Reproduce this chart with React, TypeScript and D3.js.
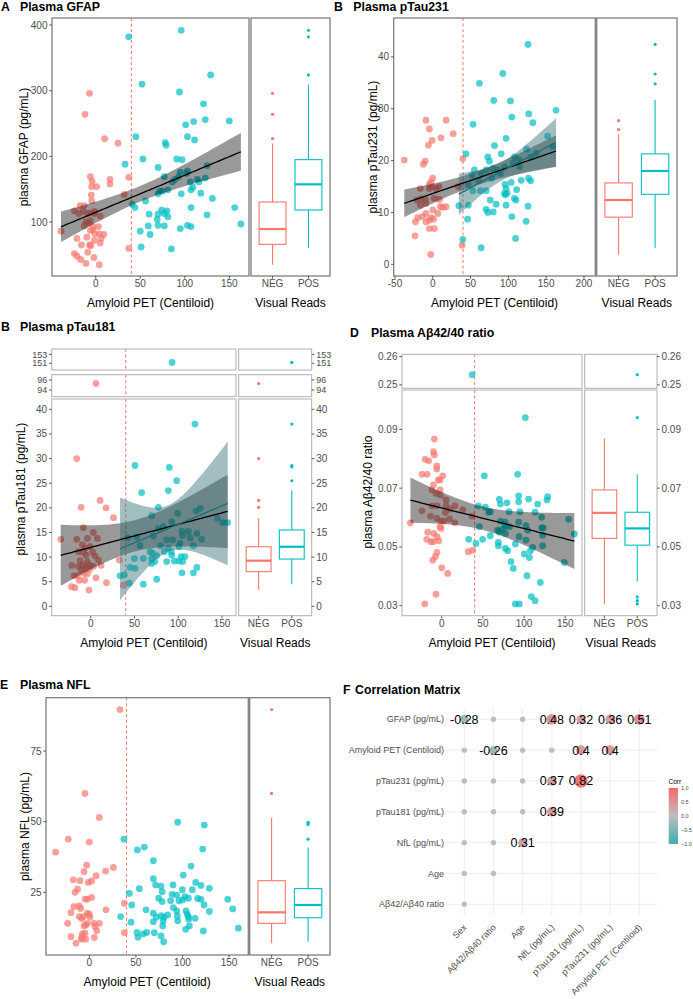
import React from 'react'
import * as d3 from 'd3'

const RED = '#F8766D'
const TEAL = '#00BFC4'
const FONT = '"Liberation Sans", Arial, Helvetica, sans-serif'

type Pt = [number, number]
type Box = { grp: string; lo: number; q1: number; med: number; q3: number; hi: number; out: number[] }

// ---- Panel A: GFAP
const gfapNeg: Pt[] = [[-39,86],[-7,296],[-12,264],[10,227],[25,220],[16,165],[16,158],[-6,169],[-4,162],[1,154],[-4.5,154],[-5,141],[-4.5,132],[-17.6,125],[-13,125],[-24,117],[-14,116],[-19,113],[-9,113],[-5,114],[-1.5,113],[5,109],[-1,116],[-11,100],[-8,98],[-13,94],[-6,87],[-3,88],[4,82],[9,81],[-1,82],[6,75],[-1.5,72],[-7,65],[-5.6,64],[-21,75],[-16,65],[5,68],[-10,77],[-24,52],[-21,48],[-17,43],[-11,37],[-2,46],[4,35],[-9,54],[-6,102],[-3,93],[37,168],[32,142],[37,60],[3,93]]
const gfapPos: Pt[] = [[37,382],[96,392],[129,324],[52,310],[94,298],[121,280],[123,256],[110,253],[101,248],[150,254],[45,230],[103,230],[111,225],[78,221],[79,217],[53,196],[33,188],[70,183],[91,196],[97,195],[103,178],[102,174],[95,176],[125,186],[77,169],[89,165],[93,169],[86,161],[106,161],[114,165],[123,167],[116,161],[72,147],[70,143],[81,149],[75,147],[96,143],[107,149],[109,153],[118,144],[131,136],[56,132],[44,122],[41,127],[107,122],[156,122],[60,112],[74,118],[80,117],[77,113],[81,108],[69,104],[125,111],[50,86],[59,94],[70,95],[77,94],[103,95],[107,93],[95,90],[163,97],[61,81],[51,62],[85,59],[70,112]]
const gfapBox: Box[] = [
  { grp: 'NEG', lo: 35, q1: 66, med: 89.3, q3: 130.5, hi: 219.5, out: [227, 264, 296] },
  { grp: 'POS', lo: 60.3, q1: 118.3, med: 157.4, q3: 195, hi: 309.5, out: [324, 382, 392] },
]

// ---- Panel B: pTau231
const p231Neg: Pt[] = [[-37.7,20.1],[-9,27.8],[17.6,27.8],[-4.5,26.1],[27,25.2],[10.9,24.4],[-1,23.9],[-5.8,23],[-10,19.9],[-12.4,19.3],[0,16.6],[-2.3,15.9],[-4.5,15.4],[-1,15],[-4.5,14.6],[4.4,14.6],[8,15],[-16.4,14.6],[-15.6,12.6],[-21,12.4],[-10,12.5],[2,12.7],[8.8,12.5],[-16.5,11.4],[-9,11.7],[10,11.1],[17.6,11.1],[13.3,11],[0,10.5],[-9,9.8],[-13.5,9.2],[6.6,9.8],[-20,9],[-2.3,9],[1,8.7],[-23,8.2],[-9,8.2],[-4.5,8.5],[-4.5,6.9],[2,6.9],[-23.5,5.5],[-2.7,1.9],[39.7,20.4],[38.8,3.7],[33.5,15]]
const p231Pos: Pt[] = [[126,42.4],[92.7,36.8],[61.7,34.9],[163,29.7],[80.7,31.6],[102.8,31.5],[104.6,28.4],[127,29],[132.4,27.3],[53.3,27],[152,24.7],[97,24.3],[159,22.7],[124,22.2],[81.6,22.9],[44,21.3],[90.5,21.3],[72.7,20.7],[75,19.9],[108,20.7],[114,20.2],[130,20.7],[137,21.4],[55,18.2],[70.6,18.2],[79.4,18.5],[86,18.2],[95,18.8],[106,19.5],[115,18.8],[52,17.2],[61,16.1],[64,17.5],[78,16.6],[89.6,17.5],[117,16.2],[126.7,16.6],[47,15.4],[95.7,15.4],[103.6,15.8],[129.4,16.1],[97,14.6],[53,14.2],[63,14.2],[70.6,14.2],[94.8,13.7],[98.4,13.7],[96,13.4],[111,14.4],[76,12.4],[108,12.7],[110,12.4],[47,11.4],[83.8,11.6],[97,11.4],[126,11.2],[70.6,10.6],[72.7,10],[80,10.1],[104.6,9.2],[123.5,8.3],[46,8.7],[39.7,4.8],[109.5,5],[64,3.2],[34.5,11.3]]
const p231Box: Box[] = [
  { grp: 'NEG', lo: 1.9, q1: 9.1, med: 12.4, q3: 15.7, hi: 25.1, out: [26, 27.7] },
  { grp: 'POS', lo: 3.2, q1: 13.5, med: 18, q3: 21.3, hi: 31.7, out: [34.8, 36.7, 42.4] },
]

// ---- Panel C: pTau181
const p181Neg: Pt[] = [[-34.3,13.6],[-16,30],[10.7,21.5],[-11,20.1],[17.5,20],[26,18],[-8.4,16],[3,15],[-16,13.6],[-3.8,13.8],[7.6,13.8],[-9.5,12.5],[-0.8,12.1],[-6.5,11.8],[-14,11.1],[-8.4,11],[2.3,11],[-5.3,10.4],[5,10.2],[8.8,9.4],[-12,9.3],[-3.8,9.1],[11.8,8.3],[-21.7,8.3],[-9,8.3],[-0.8,8.3],[3,8.1],[-14,8.1],[-5.3,7.9],[-1.5,7.5],[-11,7.4],[-15,6.2],[-19,6.2],[-7.6,6.7],[-3.8,6.6],[6,5.8],[-13,5.3],[-7,5.3],[18,4.8],[-22,4],[-18,3.8],[-2,3.3],[32.7,9.4],[37.3,4.3],[6,95.3]]
const p181Pos: Pt[] = [[119,37],[50.6,28.6],[89.8,28.2],[98.2,25.5],[88.7,23.5],[58.2,23.1],[77.3,20.1],[99.4,18.9],[92.5,17.2],[69.7,18.4],[125,19.9],[120.3,19.4],[144.7,17.9],[150.7,17],[156.5,17],[77.3,15.8],[83,16.2],[104,15.2],[111.6,15.2],[105,14.4],[113.7,13.9],[121.3,14.8],[126.8,13.6],[52.5,14.1],[42.3,13.9],[71.6,14.3],[86.8,13.5],[93.6,13.5],[102,12.8],[100.9,12.1],[79.9,12.3],[56.3,12.3],[88.7,11.8],[117.3,12.3],[67.8,11.1],[70.8,10.8],[84.2,11.1],[92.1,11.1],[75.4,10.3],[92.5,10.4],[49.9,9.7],[60.1,9.7],[69.7,9.7],[103.2,10.1],[107.7,10.1],[95.5,9.2],[73.4,9.1],[86.8,9.1],[105,9.1],[69.7,8.7],[100.9,9.2],[44.9,7.9],[50.6,7.7],[121.3,7.9],[104.3,6.8],[117.3,6.8],[33.5,6.2],[38.4,6.4],[75.4,5.5],[44.2,4.7],[60.1,4.5],[93,151.2]]
const p181Box: Box[] = [
  { grp: 'NEG', lo: 3.3, q1: 7.04, med: 9.27, q3: 12.1, hi: 17.9, out: [20.1, 21.5, 30, 95.3] },
  { grp: 'POS', lo: 4.5, q1: 9.6, med: 12.1, q3: 15.5, hi: 23.5, out: [25.5, 28.3, 28.6, 37, 151.2] },
]

// ---- Panel D: Abeta42/40
const ratioNeg: Pt[] = [[-38,0.0582],[-8.9,0.0867],[-10,0.0824],[-8.9,0.0813],[-20.2,0.0798],[-15.8,0.0793],[-6,0.0776],[-6,0.0765],[-23.9,0.0747],[-17.8,0.0747],[1.2,0.0742],[-4,0.0728],[-2,0.0728],[-10,0.0711],[-11.7,0.0694],[-2,0.0694],[-6.9,0.0682],[-1.6,0.0677],[-11.7,0.064],[-5.7,0.064],[5.3,0.066],[5.3,0.064],[10,0.0629],[-23.9,0.0623],[4.4,0.0618],[16,0.064],[25.5,0.0626],[-13.7,0.0605],[-6,0.0597],[-0.8,0.0588],[2.4,0.0588],[9.3,0.0595],[16,0.0582],[-2,0.0569],[-0.8,0.0563],[-17,0.055],[-9.7,0.0546],[-5.7,0.0535],[-18.2,0.0526],[-13,0.0518],[-10,0.0518],[-3.6,0.0521],[-5.7,0.0481],[-7.7,0.0467],[-10.9,0.0455],[0,0.0429],[7.3,0.041],[-6.9,0.0339],[-20.6,0.0306],[36.8,0.0605],[32.3,0.0484],[37.6,0.0489]]
const ratioPos: Pt[] = [[101.5,0.094],[51.8,0.0742],[92.2,0.0747],[93.4,0.0674],[105.5,0.0663],[128.6,0.0671],[127.8,0.066],[70,0.0662],[71.2,0.0646],[79.3,0.065],[93.4,0.0654],[116.5,0.0646],[44.5,0.064],[53,0.0635],[57,0.0618],[59,0.062],[81.7,0.062],[95,0.062],[113.3,0.0618],[71.2,0.0588],[76.9,0.0584],[93.4,0.0584],[121.3,0.0601],[45.7,0.0569],[67.9,0.0557],[74,0.056],[77.3,0.0572],[82.2,0.0569],[69.9,0.0551],[77.3,0.0546],[102.3,0.0572],[104.3,0.0557],[121.3,0.0565],[123.3,0.0565],[122.5,0.054],[154,0.0594],[161,0.0544],[59,0.0538],[94,0.0535],[49.7,0.0526],[32.8,0.0526],[68.7,0.0515],[68.7,0.0504],[89.4,0.051],[102.3,0.0523],[41.6,0.0512],[77.3,0.0495],[80,0.0487],[107.6,0.0487],[110.4,0.0498],[122.5,0.0504],[100.3,0.0476],[106.4,0.0464],[84.1,0.045],[86.9,0.0427],[148.8,0.0447],[103.5,0.0402],[119.7,0.0379],[108.8,0.0331],[113.3,0.0317],[89.4,0.0306],[94.2,0.0306],[37,0.2536]]
const ratioBox: Box[] = [
  { grp: 'NEG', lo: 0.0306, q1: 0.0529, med: 0.0616, q3: 0.0694, hi: 0.0869, out: [] },
  { grp: 'POS', lo: 0.0382, q1: 0.0506, med: 0.0563, q3: 0.0618, hi: 0.0747, out: [0.0306, 0.0317, 0.033, 0.094, 0.2536] },
]

// ---- Panel E: NFL
const nflNeg: Pt[] = [[-36.2,39.2],[32.9,89.7],[-4.7,60],[10.7,51.5],[-22.6,43.8],[0,42.8],[-2.9,34.6],[25.8,33.8],[-5.7,32.3],[17.5,32.5],[7.2,30.9],[-17.2,29.4],[-10,29.1],[-1.1,28.5],[2.5,29],[-12.5,26.1],[-15.4,25],[-4.3,22.6],[-2.1,22.6],[2.5,23.2],[-16.5,19.9],[-11,20.2],[-9.3,19.3],[17.9,18.8],[-19.7,17.8],[-2.1,17.6],[0,17.3],[-10.7,16.4],[-6.4,16.4],[0.7,16.2],[-8.2,15.6],[-23.3,14],[-2.1,14],[5,14],[10.7,14],[-3.6,13.4],[-5.7,13.1],[6.1,12.9],[7.9,11.4],[-19.7,9.3],[-7.5,10.3],[-8.2,9],[-4.7,10.5],[5.4,9],[-8.2,8.4],[-3.9,8.4],[-14.3,7],[37.6,10.7],[37.6,21.1]]
const nflPos: Pt[] = [[37.2,43.8],[94.9,49.8],[123.5,48.8],[51.6,40],[59.1,41],[121.7,40.3],[68.7,36.2],[109.2,34.3],[100.9,31.1],[114.2,28.5],[68.7,29.8],[71.2,27.6],[77,27.2],[89.9,27.6],[119.9,27.4],[128.9,26.4],[53.7,26.3],[99.9,25.9],[110.6,25.9],[43,24.6],[78.2,25.2],[88.9,24.3],[93.8,24],[102.8,23.5],[106.4,22.9],[74.5,22.9],[116.3,22.8],[119.9,22.5],[148.6,22.5],[78.2,21.7],[87.3,22],[96.3,22],[100.2,22.3],[45.5,20.5],[123.2,20.5],[90.3,19.6],[93.8,18.4],[154,19.1],[60.9,18.8],[103.8,18.4],[105.2,17.2],[68.7,17.6],[77.3,16.7],[84.1,17],[94.5,16.6],[106.4,16.4],[72,16.2],[80.2,16.2],[128.9,18.2],[94.9,14.9],[106.7,15.5],[113.6,15.8],[33.7,16.4],[44.8,14.4],[68.7,14.6],[79.4,14.9],[78.8,13.1],[107.4,13.1],[103.4,11.9],[160,12.3],[122.4,11.3],[51.2,10.8],[61.6,10.8],[69.8,10.7],[58,10.3],[52.3,9.1],[77,9.6],[79.8,7.5]]
const nflBox: Box[] = [
  { grp: 'NEG', lo: 7, q1: 14, med: 17.9, q3: 29.1, hi: 51.4, out: [60, 89.7] },
  { grp: 'POS', lo: 7.5, q1: 16, med: 20.5, q3: 26.3, hi: 40.9, out: [43.8, 49, 49.5, 49.8] },
]

// ---- Panel F: correlation matrix (null = empty, NaN = not significant)
const corrRows = ['GFAP (pg/mL)', 'Amyloid PET (Centiloid)', 'pTau231 (pg/mL)', 'pTau181 (pg/mL)', 'NfL (pg/mL)', 'Age', 'Aβ42/Aβ40 ratio']
const corrCols = ['Sex', 'Aβ42/Aβ40 ratio', 'Age', 'NfL (pg/mL)', 'pTau181 (pg/mL)', 'pTau231 (pg/mL)', 'Amyloid PET (Centiloid)']
const NS = NaN
const corrValues: (number | null)[][] = [
  [-0.28, NS, NS, 0.48, 0.32, 0.36, 0.51],
  [NS, -0.26, NS, NS, 0.4, 0.4, null],
  [NS, NS, NS, 0.37, 0.82, null, null],
  [NS, NS, NS, 0.39, null, null, null],
  [NS, NS, 0.31, null, null, null, null],
  [NS, NS, null, null, null, null, null],
  [NS, null, null, null, null, null, null],
]
const legendTicks = [1, 0.5, 0, -0.5, -1]

const CUTOFF = 40

function lmBand(pts: Pt[]) {
  const n = pts.length
  const mx = d3.mean(pts, (d) => d[0])!
  const my = d3.mean(pts, (d) => d[1])!
  let sxx = 0
  let sxy = 0
  pts.forEach(([x, y]) => {
    sxx += (x - mx) ** 2
    sxy += (x - mx) * (y - my)
  })
  const b = sxy / sxx
  const a = my - b * mx
  const s = Math.sqrt(d3.sum(pts, ([x, y]) => (y - a - b * x) ** 2) / (n - 2))
  const t = 1.96 + 2.4 / (n - 2)
  const [x0, x1] = d3.extent(pts, (d) => d[0]) as [number, number]
  return d3.range(80).map((i) => {
    const x = x0 + ((x1 - x0) * i) / 79
    const se = s * Math.sqrt(1 / n + (x - mx) ** 2 / sxx)
    const f = a + b * x
    return { x, f, lo: f - t * se, hi: f + t * se }
  })
}

type Seg = { dom: [number, number]; top: number; bottom: number; ticks: number[]; small?: boolean }
type Spec = {
  id: string
  letter: string
  letterX: number
  title: string
  titleX: number
  titleY: number
  sx: [number, number]
  bx: [number, number]
  xDom: [number, number]
  xTicks: number[]
  segs: Seg[]
  neg: Pt[]
  pos: Pt[]
  box: Box[]
  fits: string[]
  rightAxis: boolean
  border: string
  borderW: number
  yLabel: string
  yLabelX: number
  yLabelY: number
  fmt: (v: number) => string
}

function Panel({ s }: { s: Spec }) {
  const x = d3.scaleLinear().domain(s.xDom).range(s.sx)
  const bx = d3.scalePoint<string>().domain(['NEG', 'POS']).range(s.bx).padding(0.6)
  const bw = bx.step() * 0.75
  const pts = [...s.neg.map((p) => ({ p, c: RED })), ...s.pos.map((p) => ({ p, c: TEAL }))]
  const main = s.segs[s.segs.length - 1]
  const bottom = main.bottom
  const fitData = s.fits.map((f) => ({ f, band: lmBand(f === 'all' ? [...s.neg, ...s.pos] : s.pos) }))
  const tickC = '#333333'
  const labC = '#4d4d4d'
  return (
    <g fontFamily={FONT}>
      <text x={s.letterX} y={s.titleY} fontSize={12.3} fontWeight="bold">{s.letter}</text>
      <text x={s.titleX} y={s.titleY} fontSize={12.3} fontWeight="bold">{s.title}</text>
      {s.segs.map((seg, si) => {
        const y = d3.scaleLinear().domain(seg.dom).range([seg.bottom, seg.top])
        const inSeg = (v: number) => v >= seg.dom[0] && v <= seg.dom[1]
        const clipId = `${s.id}-clip-${si}`
        const isMain = si === s.segs.length - 1
        const fs = seg.small ? 9 : 10
        const area = d3.area<{ x: number; lo: number; hi: number }>().x((d) => x(d.x)).y0((d) => y(d.lo)).y1((d) => y(d.hi))
        const line = d3.line<{ x: number; f: number }>().x((d) => x(d.x)).y((d) => y(d.f))
        return (
          <g key={si}>
            <defs>
              <clipPath id={clipId}>
                <rect x={s.sx[0]} y={seg.top} width={s.sx[1] - s.sx[0]} height={seg.bottom - seg.top} />
              </clipPath>
            </defs>
            <g clipPath={`url(#${clipId})`}>
              <line x1={x(CUTOFF)} x2={x(CUTOFF)} y1={seg.top} y2={seg.bottom} stroke={RED} strokeWidth={1} strokeDasharray="3,2.5" />
              {pts.filter((d) => inSeg(d.p[1])).map((d, i) => (
                <circle key={i} cx={x(d.p[0])} cy={y(d.p[1])} r={3.4} fill={d.c} fillOpacity={0.7} />
              ))}
              {isMain && fitData.map((fd, i) => (
                <path key={'b' + i} d={area(fd.band)!} fill={fd.f === 'all' ? '#000000' : '#336f75'} fillOpacity={fd.f === 'all' ? 0.4 : 0.45} />
              ))}
              {isMain && fitData.map((fd, i) => (
                <path key={'l' + i} d={line(fd.band)!} fill="none" stroke={fd.f === 'all' ? '#000000' : '#1d6f76'} strokeWidth={1.3} />
              ))}
            </g>
            <rect x={s.sx[0]} y={seg.top} width={s.sx[1] - s.sx[0]} height={seg.bottom - seg.top} fill="none" stroke={s.border} strokeWidth={s.borderW} />
            {/* box panel */}
            <g>
              {isMain && s.box.map((b) => {
                const cx = bx(b.grp)!
                const c = b.grp === 'NEG' ? RED : TEAL
                return (
                  <g key={b.grp} stroke={c} fill="none">
                    <line x1={cx} x2={cx} y1={y(b.lo)} y2={y(b.q1)} strokeWidth={1.1} />
                    <line x1={cx} x2={cx} y1={y(b.q3)} y2={y(b.hi)} strokeWidth={1.1} />
                    <rect x={cx - bw / 2} y={y(b.q3)} width={bw} height={y(b.q1) - y(b.q3)} fill="white" strokeWidth={1.1} />
                    <line x1={cx - bw / 2} x2={cx + bw / 2} y1={y(b.med)} y2={y(b.med)} strokeWidth={2.2} />
                  </g>
                )
              })}
              {s.box.map((b) =>
                b.out.filter(inSeg).map((v, i) => (
                  <circle key={b.grp + i} cx={bx(b.grp)!} cy={y(v)} r={1.6} fill={b.grp === 'NEG' ? RED : TEAL} />
                ))
              )}
            </g>
            <rect x={s.bx[0]} y={seg.top} width={s.bx[1] - s.bx[0]} height={seg.bottom - seg.top} fill="none" stroke={s.border} strokeWidth={s.borderW} />
            {/* left axis */}
            {seg.ticks.map((t) => (
              <g key={'yl' + t}>
                <line x1={s.sx[0] - 2.7} x2={s.sx[0]} y1={y(t)} y2={y(t)} stroke={tickC} strokeWidth={0.8} />
                <text x={s.sx[0] - 4.5} y={y(t)} dy="0.35em" textAnchor="end" fontSize={fs} fill={labC}>{s.fmt(t)}</text>
              </g>
            ))}
            {s.rightAxis && seg.ticks.map((t) => (
              <g key={'yr' + t}>
                <line x1={s.bx[1]} x2={s.bx[1] + 2.7} y1={y(t)} y2={y(t)} stroke={tickC} strokeWidth={0.8} />
                <text x={s.bx[1] + 4.5} y={y(t)} dy="0.35em" textAnchor="start" fontSize={fs} fill={labC}>{s.fmt(t)}</text>
              </g>
            ))}
          </g>
        )
      })}
      {s.xTicks.map((t) => (
        <g key={'x' + t}>
          <line x1={x(t)} x2={x(t)} y1={bottom} y2={bottom + 2.7} stroke={tickC} strokeWidth={0.8} />
          <text x={x(t)} y={bottom + 11.3} textAnchor="middle" fontSize={10} fill={labC}>{t}</text>
        </g>
      ))}
      {bx.domain().map((g) => (
        <g key={g}>
          <line x1={bx(g)!} x2={bx(g)!} y1={bottom} y2={bottom + 2.7} stroke={tickC} strokeWidth={0.8} />
          <text x={bx(g)!} y={bottom + 11.3} textAnchor="middle" fontSize={10} fill={labC}>{g}</text>
        </g>
      ))}
      <text x={(s.sx[0] + s.sx[1]) / 2} y={bottom + 31} textAnchor="middle" fontSize={12}>Amyloid PET (Centiloid)</text>
      <text x={(s.bx[0] + s.bx[1]) / 2} y={bottom + 31} textAnchor="middle" fontSize={12}>Visual Reads</text>
      <text transform={`translate(${s.yLabelX},${s.yLabelY}) rotate(-90)`} dy="0.35em" textAnchor="middle" fontSize={12}>{s.yLabel}</text>
    </g>
  )
}

const plain = (v: number) => String(v)

const specs: Spec[] = [
  {
    id: 'a', letter: 'A', letterX: 1, title: 'Plasma GFAP', titleX: 20, titleY: 10.7,
    sx: [52, 249], bx: [251, 330], xDom: [-49.1, 172.1], xTicks: [0, 50, 100, 150],
    segs: [{ dom: [17.8, 410.7], top: 18, bottom: 276, ticks: [100, 200, 300, 400] }],
    neg: gfapNeg, pos: gfapPos, box: gfapBox, fits: ['all'], rightAxis: false, border: '#7f7f7f', borderW: 1.3,
    yLabel: 'plasma GFAP (pg/mL)', yLabelX: 24, yLabelY: 147, fmt: plain,
  },
  {
    id: 'b', letter: 'B', letterX: 334, title: 'Plasma pTau231', titleX: 353.3, titleY: 10.7,
    sx: [393.7, 595.3], bx: [596.7, 677], xDom: [-51.7, 215], xTicks: [-50, 0, 50, 100, 150, 200],
    segs: [{ dom: [-2.25, 47.5], top: 18, bottom: 276, ticks: [0, 10, 20, 30, 40] }],
    neg: p231Neg, pos: p231Pos, box: p231Box, fits: ['all', 'pos'], rightAxis: false, border: '#7f7f7f', borderW: 1.3,
    yLabel: 'plasma pTau231 (pg/mL)', yLabelX: 372.7, yLabelY: 147, fmt: plain,
  },
  {
    id: 'c', letter: 'B', letterX: 1, title: 'Plasma pTau181', titleX: 20, titleY: 330.7,
    sx: [51.7, 236], bx: [238.7, 311.7], xDom: [-44.6, 166], xTicks: [0, 50, 100, 150],
    segs: [
      { dom: [149.5, 154.2], top: 349, bottom: 370, ticks: [151, 153], small: true },
      { dom: [92.66, 97.06], top: 374.7, bottom: 396.7, ticks: [94, 96], small: true },
      { dom: [-1.9, 42.1], top: 399, bottom: 615.7, ticks: [0, 5, 10, 15, 20, 25, 30, 35, 40] },
    ],
    neg: p181Neg, pos: p181Pos, box: p181Box, fits: ['all', 'pos'], rightAxis: true, border: '#b0b0b0', borderW: 1,
    yLabel: 'plasma pTau181 (pg/mL)', yLabelX: 20.7, yLabelY: 489, fmt: plain,
  },
  {
    id: 'd', letter: 'D', letterX: 350, title: 'Plasma Aβ42/40 ratio', titleX: 371, titleY: 336.5,
    sx: [402, 582], bx: [584.7, 657], xDom: [-48.2, 170.3], xTicks: [0, 50, 100, 150],
    segs: [
      { dom: [0.2488, 0.2608], top: 354.3, bottom: 388.3, ticks: [0.25, 0.26] },
      { dom: [0.0266, 0.1034], top: 390, bottom: 615.7, ticks: [0.03, 0.05, 0.07, 0.09] },
    ],
    neg: ratioNeg, pos: ratioPos, box: ratioBox, fits: ['all'], rightAxis: true, border: '#b0b0b0', borderW: 1,
    yLabel: 'plasma Aβ42/40 ratio', yLabelX: 367.7, yLabelY: 492, fmt: d3.format('.2f'),
  },
  {
    id: 'e', letter: 'E', letterX: 0, title: 'Plasma NFL', titleX: 20, titleY: 689.3,
    sx: [46, 248.3], bx: [249.7, 330], xDom: [-46.5, 170.7], xTicks: [0, 50, 100, 150],
    segs: [{ dom: [2.8, 93.9], top: 697.7, bottom: 955, ticks: [25, 50, 75] }],
    neg: nflNeg, pos: nflPos, box: nflBox, fits: [], rightAxis: false, border: '#7f7f7f', borderW: 1.3,
    yLabel: 'plasma NFL (pg/mL)', yLabelX: 25, yLabelY: 826.5, fmt: plain,
  },
]

function CorrPanel() {
  const x = d3.scalePoint<string>().domain(corrCols).range([464.3, 639.3])
  const y = d3.scalePoint<string>().domain(corrRows).range([719.3, 904.3])
  const color = d3.scaleLinear<string>().domain([-1, 0, 1]).range(['#3FAFB1', '#BDBDBD', '#F8696B'])
  const size = d3.scaleLinear().domain([0, 1]).range([3.1, 7.5])
  const legY = d3.scaleLinear().domain([-1, 1]).range([844, 788])
  const xl = 446
  const xr = 657.7
  const yt = 708
  const yb = 915
  return (
    <g fontFamily={FONT}>
      <text x={343} y={694.3} fontSize={12.3} fontWeight="bold">F</text>
      <text x={355} y={694.3} fontSize={12.3} fontWeight="bold">Correlation Matrix</text>
      {corrRows.map((r) => (
        <line key={'h' + r} x1={xl} x2={xr} y1={y(r)} y2={y(r)} stroke="#e8e8e8" strokeWidth={0.8} />
      ))}
      {corrCols.map((c) => (
        <line key={'v' + c} x1={x(c)} x2={x(c)} y1={yt} y2={yb} stroke="#e8e8e8" strokeWidth={0.8} />
      ))}
      {corrRows.map((r) => (
        <text key={'rl' + r} x={444} y={y(r)} dy="0.35em" textAnchor="end" fontSize={9} fill="#4d4d4d">{r}</text>
      ))}
      {corrCols.map((c) => (
        <text key={'cl' + c} transform={`translate(${x(c)! + 3},${928}) rotate(-45)`} textAnchor="end" fontSize={9} fill="#4d4d4d">{c}</text>
      ))}
      {corrValues.map((row, i) =>
        row.map((v, j) => {
          if (v === null) return null
          const cx = x(corrCols[j])!
          const cy = y(corrRows[i])!
          if (Number.isNaN(v)) return <circle key={`${i}-${j}`} cx={cx} cy={cy} r={2.7} fill="#bebebe" />
          return (
            <g key={`${i}-${j}`}>
              <circle cx={cx} cy={cy} r={size(Math.abs(v))} fill={color(v)} />
              <text x={cx} y={cy} dy="0.36em" textAnchor="middle" fontSize={12.5} fill="#000">{String(v)}</text>
            </g>
          )
        })
      )}
      <defs>
        <linearGradient id="corrGrad" x1="0" y1="1" x2="0" y2="0">
          <stop offset="0%" stopColor={color(-1)} />
          <stop offset="50%" stopColor={color(0)} />
          <stop offset="100%" stopColor={color(1)} />
        </linearGradient>
      </defs>
      <text x={668.5} y={784} fontSize={6.5}>Corr</text>
      <rect x={668.7} y={788} width={9.3} height={56} fill="url(#corrGrad)" />
      {legendTicks.map((t) => (
        <text key={t} x={681} y={legY(t)} dy="0.35em" fontSize={5.5} fill="#4d4d4d">{d3.format('.1f')(t)}</text>
      ))}
    </g>
  )
}

export default function App() {
  return (
    <svg width={693} height={999} style={{ position: 'absolute', left: 0, top: 0, background: 'white' }}>
      <rect width={693} height={999} fill="white" />
      {specs.map((s) => (
        <Panel key={s.id} s={s} />
      ))}
      <CorrPanel />
    </svg>
  )
}
